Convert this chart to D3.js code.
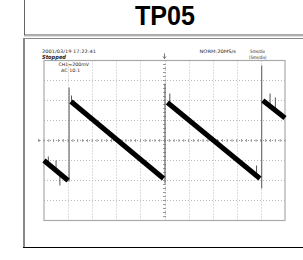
<!DOCTYPE html>
<html><head><meta charset="utf-8">
<script src="https://cdn.jsdelivr.net/npm/d3@7"></script>
<style>html,body{margin:0;padding:0;background:#fff;overflow:hidden}</style>
</head><body><svg id="c" width="303" height="260"></svg>
<script>
// ---- data ----
const title = "TP05";
const gridTimes = [0,5,10,15,20,25,30,35,40,45,50];          // ms (5 ms/div)
const gridVolts = [-0.8,-0.6,-0.4,-0.2,0,0.2,0.4,0.6,0.8];    // V (200 mV/div)
// sawtooth ramps (start/end time in ms, start/end voltage in V)
const rampStartT = [0, 5.6, 25.6, 45.4];
const rampEndT   = [5.0, 24.8, 44.8, 50];
const rampStartV = [-0.20, 0.39, 0.38, 0.40];
const rampEndV   = [-0.40, -0.38, -0.38, 0.225];
// fast edges (time ms, low V, high V)
const jumpT    = [5.2, 25.1, 45.15];
const jumpLow  = [-0.41, -0.43, -0.48];
const jumpHigh = [0.53, 0.57, 0.75];
// noise spikes (time ms, base V, tip V)
const spikeT    = [0.9, 2.5, 3.3, 5.7, 26.1, 44.1, 46.9, 48.0];
const spikeBase = [-0.24, -0.30, -0.33, 0.39, 0.36, -0.35, 0.34, 0.30];
const spikeTip  = [-0.16, -0.20, -0.45, 0.45, 0.47, -0.25, 0.47, 0.43];
const header = {date:"2001/03/19  17:22:41", status:"Stopped", ch:"CH1=200mV", cpl:"AC  10:1",
                mode:"NORM:20MS/s", tdiv:"5ms/div", tdiv2:"(5ms/div)"};

// ---- drawing ----
const svg = d3.select("#c");
const x = d3.scaleLinear().domain([0,50]).range([44,285]);
const y = d3.scaleLinear().domain([-0.8,0.8]).range([220.5,60.5]);

// frames
svg.append("line").attr("x1",24.5).attr("x2",24.5).attr("y1",0).attr("y2",35).attr("stroke","#666").attr("stroke-width",1);
svg.append("line").attr("x1",24).attr("x2",303).attr("y1",35).attr("y2",35).attr("stroke","#555").attr("stroke-width",1);
svg.append("line").attr("x1",24).attr("x2",303).attr("y1",36).attr("y2",36).attr("stroke","#bbb").attr("stroke-width",1);
svg.append("line").attr("x1",23).attr("x2",303).attr("y1",38.5).attr("y2",38.5).attr("stroke","#888").attr("stroke-width",1);
svg.append("line").attr("x1",24).attr("x2",24).attr("y1",38).attr("y2",248).attr("stroke","#888").attr("stroke-width",2);
svg.append("line").attr("x1",23).attr("x2",303).attr("y1",247.5).attr("y2",247.5).attr("stroke","#000").attr("stroke-width",1);

// title
svg.append("text").attr("x",165).attr("y",24.5).attr("text-anchor","middle")
  .attr("font-family","'Liberation Sans Narrow','Liberation Sans',Arial,sans-serif")
  .attr("font-weight","bold").attr("font-size",27).attr("textLength",60).attr("lengthAdjust","spacingAndGlyphs")
  .text(title);

// grid
const g = svg.append("g");
g.selectAll("line.v").data(gridTimes.slice(1,-1)).join("line")
  .attr("x1",d=>Math.round(x(d))+0.5).attr("x2",d=>Math.round(x(d))+0.5)
  .attr("y1",y(0.8)).attr("y2",y(-0.8))
  .attr("stroke",d=>d===25?"#999":"#bbb").attr("stroke-width",1).attr("stroke-dasharray","1,2");
g.selectAll("line.h").data(gridVolts.slice(1,-1)).join("line")
  .attr("y1",d=>y(d)).attr("y2",d=>y(d)).attr("x1",x(0)).attr("x2",x(50))
  .attr("stroke",d=>d===0?"#999":"#bbb").attr("stroke-width",1).attr("stroke-dasharray","1,2");
// minor ticks on center axes
g.selectAll("line.tx").data(d3.range(0,50.01,1)).join("line")
  .attr("x1",d=>x(d)).attr("x2",d=>x(d)).attr("y1",y(0)-1.5).attr("y2",y(0)+1.5)
  .attr("stroke","#999").attr("stroke-width",1);
g.selectAll("line.ty").data(d3.range(-0.8,0.801,0.04)).join("line")
  .attr("y1",d=>y(d)).attr("y2",d=>y(d)).attr("x1",x(25)-1.5).attr("x2",x(25)+1.5)
  .attr("stroke","#999").attr("stroke-width",1);
// graticule border
g.append("rect").attr("x",x(0)).attr("y",y(0.8)).attr("width",x(50)-x(0)).attr("height",y(-0.8)-y(0.8))
  .attr("fill","none").attr("stroke","#aaa").attr("stroke-width",1.2);

// trigger marker & ground marker
g.append("path").attr("d",`M${x(25)},${y(0.8)-7}V${y(0.8)-2}M${x(25)-1.5},${y(0.8)-4}L${x(25)},${y(0.8)-2}L${x(25)+1.5},${y(0.8)-4}`)
  .attr("stroke","#555").attr("fill","none").attr("stroke-width",0.8);
g.append("path").attr("d",`M${x(0)-6},${y(0)-1.5}L${x(0)-3},${y(0)}L${x(0)-6},${y(0)+1.5}Z`).attr("fill","#888");

// jumps
const tr = svg.append("g");
tr.selectAll("line.j").data(jumpT).join("line")
  .attr("x1",d=>x(d)).attr("x2",d=>x(d))
  .attr("y1",(d,i)=>y(jumpLow[i])).attr("y2",(d,i)=>y(jumpHigh[i]))
  .attr("stroke","#777").attr("stroke-width",1.3);
// spikes
tr.selectAll("line.s").data(spikeT).join("line")
  .attr("x1",d=>x(d)).attr("x2",d=>x(d))
  .attr("y1",(d,i)=>y(spikeBase[i])).attr("y2",(d,i)=>y(spikeTip[i]))
  .attr("stroke","#555").attr("stroke-width",1);
// ramps
const line = d3.line().x(d=>x(d[0])).y(d=>y(d[1]));
tr.selectAll("path.r").data(rampStartT.map((t,i)=>[[t,rampStartV[i]],[rampEndT[i],rampEndV[i]]])).join("path")
  .attr("d",line).attr("stroke","#000").attr("stroke-width",5).attr("fill","none");

// header texts
const f = "'DejaVu Sans','Liberation Sans',sans-serif";
function txt(s,xx,yy,len,opt={}){
  svg.append("text").attr("x",xx).attr("y",yy).attr("font-family",f).attr("font-size",opt.size||4.6)
    .attr("font-weight",opt.bold?"bold":"normal").attr("font-style",opt.italic?"italic":"normal")
    .attr("fill","#222").attr("textLength",len).attr("lengthAdjust","spacingAndGlyphs").text(s);
}
txt(header.date,42,52.5,54);
txt(header.status,42,58.5,24,{bold:true,italic:true,size:5.6});
txt(header.ch,58.5,65.5,30.5);
txt(header.cpl,61,72,19);
txt(header.mode,199.5,53,36.5);
txt(header.tdiv,250,53,15);
txt(header.tdiv2,249,58.5,17.5);
</script></body></html>
